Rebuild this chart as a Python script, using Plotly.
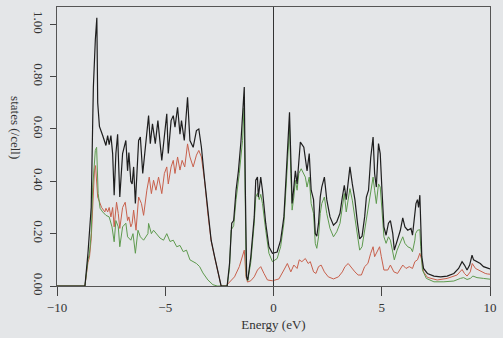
import plotly.graph_objects as go

# Total DOS (black)
energy_total = [-10, -8.71, -8.57, -8.50, -8.42, -8.35, -8.32, -8.23, -8.16, -8.12, -8.04, -7.89, -7.74, -7.66,
                -7.59, -7.51, -7.43, -7.36, -7.28, -7.20, -7.10, -6.97, -6.82, -6.74, -6.68, -6.59, -6.53, -6.46,
                -6.38, -6.23, -6.15, -6.04, -5.92, -5.77, -5.69, -5.59, -5.46, -5.34, -5.16, -5.01, -4.93, -4.86,
                -4.73, -4.63, -4.55, -4.43, -4.32, -4.25, -4.12, -3.97, -3.86, -3.71, -3.56, -3.45, -3.33, -3.18,
                -3.03, -2.88, -2.72, -2.57, -2.42, -2.14, -2.03, -1.93, -1.84, -1.73, -1.62, -1.50, -1.41, -1.35,
                -1.30, -1.24, -1.19, -1.05, -0.89, -0.82, -0.74, -0.70, -0.59, -0.51, -0.36, -0.21, -0.05, 0.17,
                0.33, 0.48, 0.59, 0.68, 0.74, 0.80, 0.86, 0.94, 1.01, 1.09, 1.17, 1.24, 1.40, 1.47, 1.55, 1.65,
                1.74, 1.85, 1.93, 2.00, 2.08, 2.16, 2.23, 2.35, 2.46, 2.61, 2.77, 2.92, 3.07, 3.18, 3.27, 3.36,
                3.53, 3.64, 3.76, 3.88, 3.98, 4.09, 4.21, 4.29, 4.39, 4.49, 4.60, 4.67, 4.75, 4.85, 4.93, 5.01,
                5.10, 5.20, 5.31, 5.40, 5.51, 5.58, 5.71, 5.86, 5.97, 6.07, 6.20, 6.35, 6.42, 6.53, 6.58, 6.65,
                6.70, 6.76, 6.80, 6.85, 6.93, 7.11, 7.41, 7.72, 8.02, 8.33, 8.55, 8.71, 8.82, 8.94, 9.06, 9.17,
                9.24, 9.40, 9.55, 9.70, 9.88, 10.0]
dos_total = [0, 0, 0.125, 0.226, 0.30, 0.63, 0.76, 0.94, 1.025, 0.70, 0.61, 0.575, 0.537, 0.575,
             0.54, 0.575, 0.506, 0.347, 0.506, 0.58, 0.34, 0.506, 0.556, 0.44, 0.51, 0.40, 0.39, 0.455,
             0.315, 0.556, 0.569, 0.43, 0.518, 0.651, 0.544, 0.62, 0.544, 0.632, 0.48, 0.607, 0.658, 0.506,
             0.632, 0.651, 0.607, 0.683, 0.58, 0.632, 0.556, 0.721, 0.556, 0.53, 0.594, 0.60, 0.53, 0.404,
             0.278, 0.175, 0.112, 0.054, 0, 0, 0.087, 0.24, 0.25, 0.366, 0.44, 0.556, 0.67, 0.76,
             0.366, 0.035, 0.023, 0.11, 0.264, 0.404, 0.416, 0.34, 0.416, 0.366, 0.24, 0.15, 0.125, 0.13,
             0.175, 0.264, 0.43, 0.58, 0.664, 0.49, 0.315, 0.378, 0.44, 0.39, 0.49, 0.55, 0.53, 0.49, 0.44, 0.506,
             0.366, 0.33, 0.20, 0.19, 0.24, 0.34, 0.378, 0.416, 0.33, 0.264, 0.232, 0.245, 0.278, 0.34, 0.385, 0.33,
             0.455, 0.39, 0.33, 0.24, 0.18, 0.19, 0.264, 0.34, 0.366, 0.49, 0.569, 0.43, 0.378, 0.544, 0.506, 0.366,
             0.226, 0.194, 0.24, 0.25, 0.20, 0.137, 0.175, 0.213, 0.26, 0.226, 0.213, 0.22, 0.194, 0.278, 0.315, 0.33,
             0.30, 0.347, 0.25, 0.112, 0.067, 0.048, 0.038, 0.035, 0.038, 0.048, 0.067, 0.093, 0.08, 0.061, 0.08, 0.118,
             0.10, 0.093, 0.086, 0.074, 0.067, 0.065]

# Partial DOS (red)
energy_red = [-10, -8.71, -8.57, -8.50, -8.42, -8.35, -8.27, -8.22, -8.12, -7.94, -7.79, -7.74, -7.66, -7.59,
              -7.51, -7.43, -7.36, -7.25, -7.17, -7.10, -6.97, -6.85, -6.74, -6.68, -6.59, -6.53, -6.46, -6.35,
              -6.23, -6.10, -6.00, -5.85, -5.74, -5.64, -5.54, -5.43, -5.31, -5.16, -5.04, -4.93, -4.86, -4.73,
              -4.63, -4.55, -4.43, -4.32, -4.22, -4.10, -3.97, -3.86, -3.71, -3.56, -3.45, -3.33, -3.18, -3.03,
              -2.88, -2.72, -2.57, -2.42, -2.20, -1.80, -1.58, -1.35, -1.27, -1.20, -1.05, -0.89, -0.74, -0.59,
              -0.44, -0.28, -0.05, 0.25, 0.48, 0.64, 0.80, 0.94, 1.09, 1.19, 1.31, 1.47, 1.60, 1.70, 1.85, 1.96,
              2.08, 2.20, 2.35, 2.53, 2.77, 3.00, 3.18, 3.30, 3.45, 3.61, 3.76, 3.91, 4.06, 4.21, 4.36, 4.49,
              4.60, 4.67, 4.80, 4.90, 4.98, 5.10, 5.28, 5.40, 5.56, 5.73, 5.97, 6.12, 6.27, 6.42, 6.53, 6.65,
              6.76, 6.83, 6.93, 7.11, 7.56, 8.02, 8.48, 8.71, 8.82, 8.94, 9.09, 9.18, 9.33, 9.55, 9.78, 9.88, 10.0]
dos_red = [0, 0, 0.09, 0.11, 0.18, 0.328, 0.44, 0.46, 0.34, 0.30, 0.283, 0.297, 0.283, 0.30,
           0.264, 0.30, 0.226, 0.32, 0.277, 0.22, 0.30, 0.32, 0.25, 0.264, 0.226, 0.239, 0.29, 0.213,
           0.34, 0.315, 0.27, 0.366, 0.416, 0.353, 0.404, 0.366, 0.416, 0.353, 0.43, 0.455, 0.39, 0.455,
           0.48, 0.43, 0.493, 0.443, 0.48, 0.455, 0.543, 0.493, 0.455, 0.50, 0.518, 0.493, 0.40, 0.275,
           0.172, 0.11, 0.052, 0, 0, 0.035, 0.074, 0.137, 0.035, 0.015, 0.02, 0.035, 0.061, 0.074,
           0.048, 0.023, 0.02, 0.027, 0.061, 0.086, 0.054, 0.08, 0.067, 0.10, 0.093, 0.105, 0.086, 0.093, 0.054, 0.048,
           0.074, 0.08, 0.054, 0.035, 0.027, 0.035, 0.054, 0.074, 0.086, 0.067, 0.054, 0.042, 0.042, 0.074, 0.086, 0.125,
           0.15, 0.112, 0.137, 0.15, 0.112, 0.061, 0.061, 0.08, 0.054, 0.048, 0.08, 0.067, 0.074, 0.067, 0.093, 0.10,
           0.125, 0.105, 0.054, 0.033, 0.023, 0.029, 0.042, 0.063, 0.048, 0.038, 0.054, 0.086, 0.067, 0.057, 0.048, 0.046, 0.045]

# Partial DOS (green)
energy_green = [-10, -8.71, -8.57, -8.50, -8.42, -8.35, -8.23, -8.17, -8.10, -8.01, -7.89, -7.74, -7.59, -7.46,
                -7.36, -7.28, -7.17, -7.10, -6.97, -6.82, -6.74, -6.59, -6.49, -6.38, -6.26, -6.15, -6.00, -5.80,
                -5.77, -5.64, -5.54, -5.39, -5.24, -5.08, -4.93, -4.78, -4.63, -4.47, -4.32, -4.17, -4.02, -3.86,
                -3.71, -3.56, -3.41, -3.26, -3.03, -2.80, -2.60, -2.14, -2.03, -1.96, -1.84, -1.73, -1.58, -1.43,
                -1.36, -1.30, -1.26, -1.19, -1.05, -0.89, -0.82, -0.74, -0.66, -0.59, -0.51, -0.36, -0.21, -0.05,
                0.17, 0.33, 0.48, 0.59, 0.68, 0.74, 0.80, 0.86, 0.94, 1.01, 1.09, 1.17, 1.28, 1.40, 1.47, 1.55,
                1.65, 1.74, 1.85, 1.93, 2.00, 2.08, 2.16, 2.23, 2.35, 2.46, 2.61, 2.77, 2.92, 3.07, 3.18, 3.27,
                3.36, 3.53, 3.64, 3.76, 3.88, 3.98, 4.09, 4.21, 4.32, 4.45, 4.60, 4.67, 4.75, 4.85, 4.93, 5.01,
                5.10, 5.20, 5.31, 5.40, 5.51, 5.58, 5.71, 5.86, 5.97, 6.07, 6.20, 6.35, 6.42, 6.53, 6.56, 6.65,
                6.76, 6.80, 6.88, 7.06, 7.41, 7.87, 8.33, 8.63, 8.78, 8.94, 9.09, 9.21, 9.40, 9.70, 9.88, 10.0]
dos_green = [0, 0, 0.10, 0.125, 0.20, 0.378, 0.518, 0.53, 0.354, 0.297, 0.283, 0.27, 0.264, 0.226,
             0.169, 0.25, 0.226, 0.15, 0.226, 0.24, 0.188, 0.175, 0.20, 0.125, 0.213, 0.188, 0.175, 0.20,
             0.239, 0.20, 0.213, 0.20, 0.183, 0.175, 0.20, 0.17, 0.175, 0.15, 0.155, 0.131, 0.137, 0.10,
             0.093, 0.086, 0.074, 0.05, 0.023, 0.005, 0, 0, 0.07, 0.213, 0.23, 0.33, 0.43, 0.556,
             0.68, 0.30, 0.04, 0.02, 0.09, 0.24, 0.34, 0.354, 0.33, 0.35, 0.315, 0.213, 0.125, 0.093,
             0.105, 0.15, 0.24, 0.39, 0.53, 0.607, 0.43, 0.29, 0.34, 0.404, 0.366, 0.43, 0.448, 0.43, 0.416, 0.378,
             0.416, 0.315, 0.277, 0.163, 0.144, 0.188, 0.277, 0.315, 0.34, 0.277, 0.22, 0.188, 0.207, 0.239, 0.302, 0.353,
             0.283, 0.372, 0.328, 0.264, 0.188, 0.137, 0.15, 0.213, 0.277, 0.328, 0.416, 0.366, 0.315, 0.39, 0.378, 0.29,
             0.188, 0.163, 0.188, 0.175, 0.125, 0.10, 0.137, 0.163, 0.188, 0.163, 0.15, 0.144, 0.131, 0.175, 0.20, 0.213,
             0.215, 0.15, 0.061, 0.029, 0.016, 0.016, 0.019, 0.029, 0.032, 0.025, 0.029, 0.038, 0.032, 0.029, 0.027, 0.026]

x_ticks = [-10, -5, 0, 5, 10]
y_ticks = [0.0, 0.2, 0.4, 0.6, 0.8, 1.0]

bg = "#e4e6e8"
fig = go.Figure()
fig.add_trace(go.Scatter(x=energy_red, y=dos_red, mode="lines",
                         line=dict(color="#c8604c", width=1)))
fig.add_trace(go.Scatter(x=energy_green, y=dos_green, mode="lines",
                         line=dict(color="#5e9a4e", width=1)))
fig.add_trace(go.Scatter(x=energy_total, y=dos_total, mode="lines",
                         line=dict(color="#1e1e1e", width=1.2)))

fig.add_shape(type="line", xref="x", yref="paper", x0=0, x1=0, y0=0, y1=1,
              line=dict(color="#333333", width=1))

font = dict(family="Liberation Serif, Times New Roman, serif", size=13, color="#333333")
fig.update_layout(
    width=503, height=338,
    margin=dict(l=57, r=9, t=6, b=52),
    paper_bgcolor=bg, plot_bgcolor=bg,
    showlegend=False,
    font=font,
    xaxis=dict(range=[-10, 10], tickvals=x_ticks, ticks="outside", ticklen=9, tickcolor="#444",
               showline=True, linecolor="#555", linewidth=1, mirror=True, showgrid=False, zeroline=False,
               title=dict(text="Energy (eV)", font=dict(size=13), standoff=6)),
    yaxis=dict(range=[0, 1.066], tickvals=y_ticks, tickformat=".2f", tickangle=90, ticks="outside",
               ticklen=6, tickcolor="#444", showline=True, linecolor="#555", linewidth=1, mirror=True,
               showgrid=False, zeroline=False),
    annotations=[dict(text="states (/cell)", textangle=90, xref="paper", yref="paper",
                      x=-0.096, y=0.568, xanchor="center", yanchor="middle", showarrow=False,
                      font=dict(size=13))],
)

fig.write_html("out.html")
